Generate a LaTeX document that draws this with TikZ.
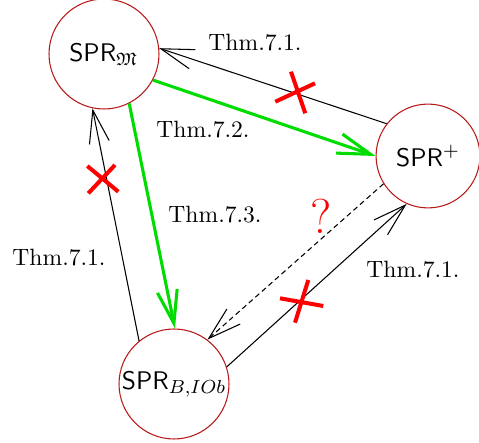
\documentclass[tikz,border=0pt]{standalone}
\usepackage{amssymb}
\usetikzlibrary{arrows.meta}
\definecolor{circred}{RGB}{185,25,25}
\definecolor{thmgreen}{RGB}{0,220,0}
\begin{document}
\begin{tikzpicture}[x=0.4237pt,y=-0.4237pt,
  state/.style={circle,draw=circred,line width=0.45pt,inner sep=0pt,font=\sffamily\fontsize{10.8}{13}\selectfont},
  arr/.style={-{Straight Barb[length=14pt,width=8.5pt,line width=0.45pt]},line width=0.45pt},
  garr/.style={-{Straight Barb[length=14pt,width=8.5pt,line width=1.3pt]},line width=1.3pt,draw=thmgreen},
  darr/.style={arr,dash pattern=on 2.2pt off 1.5pt},
  lbl/.style={inner sep=0pt},
  cross/.style={draw=red,line width=1.7pt}]
\useasboundingbox (0,0) rectangle (479,443);
\node[state,minimum size=46.6pt] (m) at (104,54) {SPR$_{\mathfrak{M}}$};
\node[state,minimum size=44pt] (p) at (428,156) {SPR$^{+}$};
\node[state,minimum size=46.6pt] (b) at (174,384) {SPR$_{B,IOb}$};
% arrows
\draw[arr] (p.142) -- (m.6);
\draw[garr] (m.-28) -- (p.180);
\draw[garr] (m.-63) -- (b.89);
\draw[arr] (b.129) -- (m.258);
\draw[arr] (b.18) -- (p.246);
\draw[darr] (p.212) -- (b.53);
% labels
\node[lbl] (l1) at (255,43) {Thm.7.1.};
\node[lbl] (l2) at (203,130) {Thm.7.2.};
\node[lbl] (l3) at (215,215) {Thm.7.3.};
\node[lbl] (l4) at (59,258) {Thm.7.1.};
\node[lbl] (l5) at (413,270) {Thm.7.1.};
\node[lbl,text=red,font=\huge] (q) at (321,216) {?};
% crosses
\draw[cross] (275.3,101.7) -- (315,83.3) (291,71.7) -- (305.3,113.3);
\draw[cross] (88.3,193.3) -- (115,165) (87.3,166) -- (118.3,191.7);
\draw[cross] (280,298.3) -- (323.3,306) (308.3,280) -- (295,322.7);
\end{tikzpicture}
\end{document}
